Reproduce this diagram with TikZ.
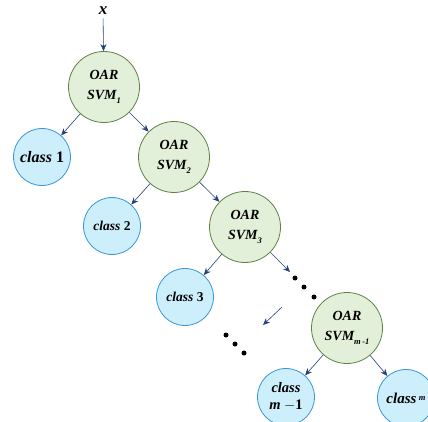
\documentclass[tikz,border=0pt]{standalone}
\usepackage{fontspec}
\setmainfont{Liberation Serif}
\usetikzlibrary{arrows.meta}
\definecolor{gfill}{HTML}{E3F0D9}
\definecolor{gdraw}{HTML}{5E8045}
\definecolor{bfill}{HTML}{CDEEFB}
\definecolor{bdraw}{HTML}{3A96D6}
\definecolor{arr}{HTML}{24407A}
\newcommand{\mysub}[1]{\raisebox{-3.5pt}{\fontsize{8.5}{8.5}\selectfont #1}}
\begin{document}
\begin{tikzpicture}[x=1pt,y=-1pt,
 svm/.style={circle,draw=gdraw,fill=gfill,line width=0.8pt,minimum size=71pt,inner sep=0pt,align=center,font=\bfseries\itshape\fontsize{14}{20}\selectfont},
 cls/.style={circle,draw=bdraw,fill=bfill,line width=0.8pt,minimum size=57pt,inner sep=0pt,align=center,font=\bfseries\fontsize{13}{13}\selectfont},
 link/.style={draw=arr,line width=0.6pt,-{Stealth[length=7pt,width=6pt]}},
 dotn/.style={circle,fill=black,inner sep=0pt,minimum size=5pt}]
\useasboundingbox (0,0) rectangle (428,422);
\clip (0,0) rectangle (428,422);
\node[font=\bfseries\itshape\fontsize{17}{17}\selectfont] (x) at (103,11) {x};
\node[svm] (s1) at (104,87) {OAR\\SVM\mysub{1}};
\node[cls,font=\bfseries\fontsize{16}{16}\selectfont] (c1) at (42,157) {\textit{class} 1};
\node[svm] (s2) at (174,157) {OAR\\SVM\mysub{2}};
\node[cls,font=\bfseries\fontsize{13.5}{13.5}\selectfont] (c2) at (112,226) {\textit{class} 2};
\node[svm] (s3) at (245,227) {OAR\\SVM\mysub{3}};
\node[cls,font=\bfseries\fontsize{13.5}{13.5}\selectfont] (c3) at (185,297) {\textit{class} 3};
\node[svm] (sm) at (347,328) {OAR\\SVM\mysub{\textit{m}\,-1}};
\node[cls,font=\bfseries\fontsize{14.5}{17}\selectfont] (cm1) at (286,397) {\textit{class}\\\textit{m} $\mathbf{-}$1};
\node[cls,font=\bfseries\fontsize{15}{15}\selectfont] (cm) at (406,398) {\textit{class}\,\raisebox{3pt}{\fontsize{8.5}{8.5}\selectfont\textit{m}}};
\node[dotn] (d1) at (295,278) {};
\node[dotn] (d2) at (304,287) {};
\node[dotn] (d3) at (314,297) {};
\node[dotn] (e1) at (226,335) {};
\node[dotn] (e2) at (235,344) {};
\node[dotn] (e3) at (244,353) {};
\coordinate (ga) at (282,307);
\coordinate (gb) at (263,325);
\coordinate (gd) at (290,272);
\draw[link] (x) -- (s1);
\draw[link] (s1) -- (c1);
\draw[link] (s1) -- (s2);
\draw[link] (s2) -- (c2);
\draw[link] (s2) -- (s3);
\draw[link] (s3) -- (c3);
\draw[link] (s3) -- (gd);
\draw[link] (ga) -- (gb);
\draw[link] (sm) -- (cm1);
\draw[link] (sm) -- (cm);
\end{tikzpicture}
\end{document}
